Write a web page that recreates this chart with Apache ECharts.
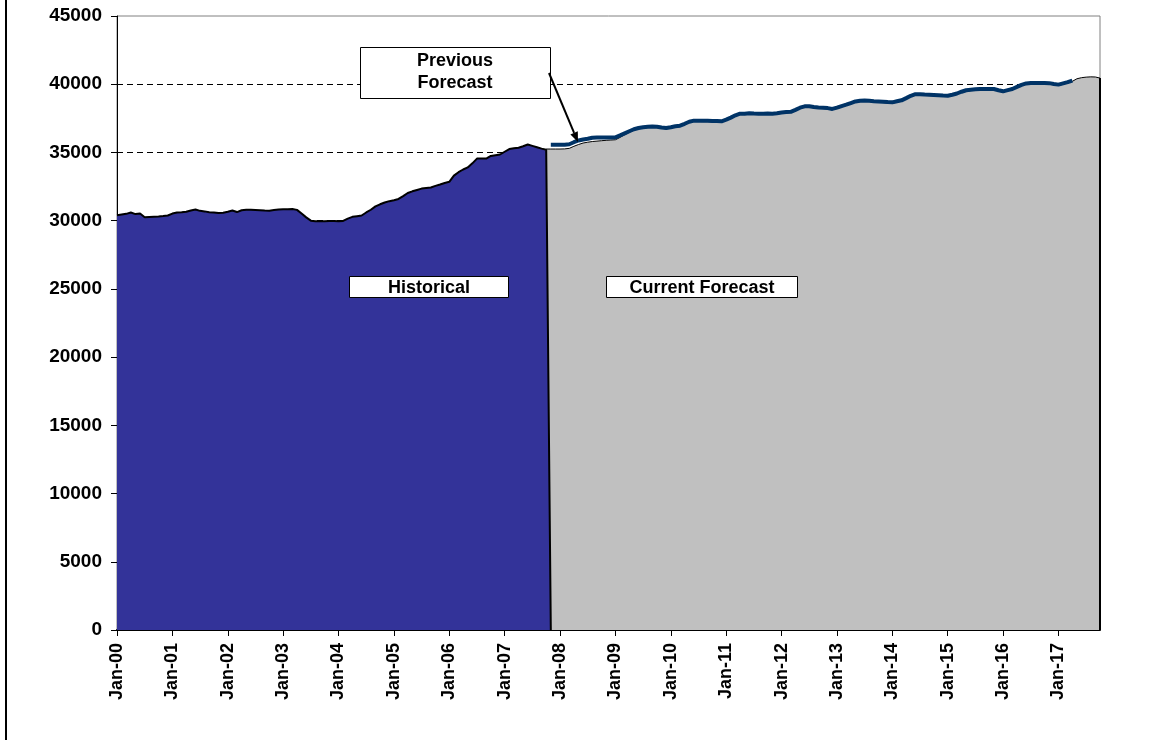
<!DOCTYPE html>
<html>
<head>
<meta charset="utf-8">
<script src="https://cdn.jsdelivr.net/npm/echarts@6/dist/echarts.min.js"></script>
<style>
html,body{margin:0;padding:0;background:#fff;}
#chart{width:1153px;height:740px;}
</style>
</head>
<body>
<div id="chart"></div>
<script>
// ---- DATA ----
const startYear = 2000;
const monthCount = 214; // Jan-00 .. Oct-17
const monthNames = ['Jan','Feb','Mar','Apr','May','Jun','Jul','Aug','Sep','Oct','Nov','Dec'];

// Historical values, Jan-00 .. Oct-07 (index 0..93), then drop to 0 at Nov-07
const historical = [
  30400,30450,30500,30600,30480,30520,30250,30270,30290,30310,30340,30380,
  30520,30600,30620,30650,30750,30820,30720,30680,30620,30600,30560,30580,
  30650,30740,30630,30760,30800,30800,30790,30770,30740,30730,30780,30820,
  30830,30840,30850,30790,30520,30240,30000,29960,29950,29960,29970,29970,
  29960,29980,30150,30280,30330,30380,30600,30800,31050,31200,31330,31430,
  31500,31590,31800,32030,32150,32250,32350,32400,32430,32550,32650,32760,
  32850,33300,33550,33750,33900,34200,34550,34560,34550,34740,34800,34850,
  35050,35250,35300,35350,35450,35580,35480,35380,35280,35200,
  0
];
const historicalStart = 0;

// Current forecast, Oct-07 .. Oct-17 (index 93..213)
const currentForecast = [
  35250,35250,35250,35250,35260,35300,35450,35580,35690,35750,35800,35830,
  35860,35890,35910,35930,36100,36300,36480,36640,36730,36790,36820,36850,
  36830,36770,36730,36790,36860,36900,37040,37190,37270,37270,37260,37260,
  37250,37240,37220,37340,37490,37660,37780,37780,37820,37790,37780,37780,
  37790,37780,37820,37870,37900,37920,38060,38220,38320,38320,38270,38240,
  38220,38190,38130,38220,38340,38440,38560,38680,38730,38740,38730,38700,
  38680,38660,38630,38610,38690,38760,38920,39090,39210,39200,39180,39170,
  39150,39130,39110,39100,39170,39260,39390,39500,39540,39570,39590,39590,
  39590,39590,39500,39420,39510,39590,39740,39890,40000,40030,40030,40030,
  40030,40020,39960,39910,40000,40090,40210,40400,40480,40520,40540,40530,
  40450
];
const currentStart = 93;

// Previous forecast, Nov-07 .. Apr-17 (index 94..207)
const previousForecast = [
  35570,35570,35570,35570,35600,35750,35880,35950,36000,36080,36100,36100,
  36100,36100,36110,36250,36400,36550,36700,36790,36850,36880,36910,36890,
  36830,36790,36850,36920,36960,37100,37250,37330,37330,37320,37320,37310,
  37300,37280,37400,37550,37720,37840,37840,37880,37850,37840,37840,37850,
  37840,37880,37930,37960,37980,38120,38280,38380,38380,38330,38300,38280,
  38250,38190,38280,38400,38500,38620,38740,38790,38800,38790,38760,38740,
  38720,38690,38670,38750,38820,38980,39150,39270,39260,39240,39230,39210,
  39190,39170,39160,39230,39320,39450,39560,39600,39630,39650,39650,39650,
  39650,39560,39480,39570,39650,39800,39950,40060,40090,40090,40090,40090,
  40080,40020,39970,40060,40150,40270
];
const previousStart = 94;

const yMin = 0, yMax = 45000, yInterval = 5000;

// ---- BUILD ----
const categories = [];
for (let i = 0; i < monthCount; i++) {
  const y = startYear + Math.floor(i / 12);
  categories.push(monthNames[i % 12] + '-' + String(y % 100).padStart(2, '0'));
}
function place(values, start) {
  const arr = new Array(monthCount).fill(null);
  values.forEach((v, i) => { arr[start + i] = v; });
  return arr;
}
const histData = place(historical, historicalStart);
const curData = place(currentForecast, currentStart);
const prevData = place(previousForecast, previousStart);
const lastIdx = currentStart + currentForecast.length - 1;

const FONT = "'Liberation Sans', Arial, sans-serif";

const chart = echarts.init(document.getElementById('chart'), null, {renderer: 'canvas'});
chart.setOption({
  animation: false,
  backgroundColor: '#ffffff',
  grid: {
    left: 117, right: 53, top: 16, bottom: 110,
    show: true, borderColor: '#808080', borderWidth: 1, backgroundColor: 'transparent'
  },
  xAxis: {
    type: 'category',
    data: categories,
    boundaryGap: false,
    axisLine: {lineStyle: {color: '#000', width: 2}},
    axisTick: {show: true, length: 6, interval: (i) => i % 12 === 0, lineStyle: {color: '#000', width: 1}},
    axisLabel: {
      interval: (i) => i % 12 === 0,
      rotate: 90, margin: 13,
      color: '#000', fontFamily: FONT, fontWeight: 'bold', fontSize: 18
    },
    splitLine: {show: false}
  },
  yAxis: {
    type: 'value',
    min: yMin, max: yMax, interval: yInterval,
    axisLine: {show: true, lineStyle: {color: '#000', width: 1}},
    axisTick: {show: true, length: 6, lineStyle: {color: '#000'}},
    axisLabel: {margin: 15, color: '#000', fontFamily: FONT, fontWeight: 'bold', fontSize: 19,
      formatter: (v) => String(v)},
    splitLine: {show: true, showMinLine: false, showMaxLine: false,
      lineStyle: {color: '#000', type: [6, 4], width: 1}}
  },
  series: [
    {
      name: 'Current Forecast',
      type: 'line',
      data: curData,
      symbol: 'none',
      lineStyle: {color: '#000', width: 1},
      areaStyle: {color: '#C0C0C0', opacity: 1},
      z: 2,
      markLine: {
        silent: true, symbol: 'none', label: {show: false},
        lineStyle: {color: '#000', width: 2, type: 'solid'},
        data: [[{coord: [lastIdx, 0]}, {coord: [lastIdx, currentForecast[currentForecast.length - 1]]}]]
      }
    },
    {
      name: 'Historical',
      type: 'line',
      data: histData,
      symbol: 'none',
      lineStyle: {color: '#000', width: 2},
      areaStyle: {color: '#333399', opacity: 1},
      z: 3
    },
    {
      name: 'Previous Forecast',
      type: 'line',
      data: prevData,
      symbol: 'none',
      lineStyle: {color: '#003366', width: 4},
      z: 4
    }
  ],
  graphic: [
    {type: 'rect', left: 5, top: 0, shape: {width: 2, height: 740}, style: {fill: '#000'}},
    {type: 'rect', shape: {x: 360.5, y: 47.5, width: 190, height: 51}, style: {fill: '#fff', stroke: '#000', lineWidth: 1}, z: 10},
    {type: 'text', style: {x: 455, y: 61, text: 'Previous', textAlign: 'center', textVerticalAlign: 'middle', font: "bold 18px 'Liberation Sans', Arial, sans-serif", fill: '#000'}, z: 11},
    {type: 'text', style: {x: 455, y: 83, text: 'Forecast', textAlign: 'center', textVerticalAlign: 'middle', font: "bold 18px 'Liberation Sans', Arial, sans-serif", fill: '#000'}, z: 11},
    {type: 'rect', shape: {x: 349.5, y: 276.5, width: 159, height: 21}, style: {fill: '#fff', stroke: '#000', lineWidth: 1}, z: 10},
    {type: 'text', style: {x: 429, y: 288, text: 'Historical', textAlign: 'center', textVerticalAlign: 'middle', font: "bold 18px 'Liberation Sans', Arial, sans-serif", fill: '#000'}, z: 11},
    {type: 'rect', shape: {x: 606.5, y: 276.5, width: 191, height: 21}, style: {fill: '#fff', stroke: '#000', lineWidth: 1}, z: 10},
    {type: 'text', style: {x: 702, y: 288, text: 'Current Forecast', textAlign: 'center', textVerticalAlign: 'middle', font: "bold 18px 'Liberation Sans', Arial, sans-serif", fill: '#000'}, z: 11},
    {type: 'line', shape: {x1: 549, y1: 73, x2: 574.1, y2: 132.8}, style: {stroke: '#000', lineWidth: 2}, z: 12},
    {type: 'polygon', shape: {points: [[578, 142], [570.4, 134.4], [577.8, 131.2]]}, style: {fill: '#000'}, z: 12}
  ]
});
</script>
</body>
</html>
